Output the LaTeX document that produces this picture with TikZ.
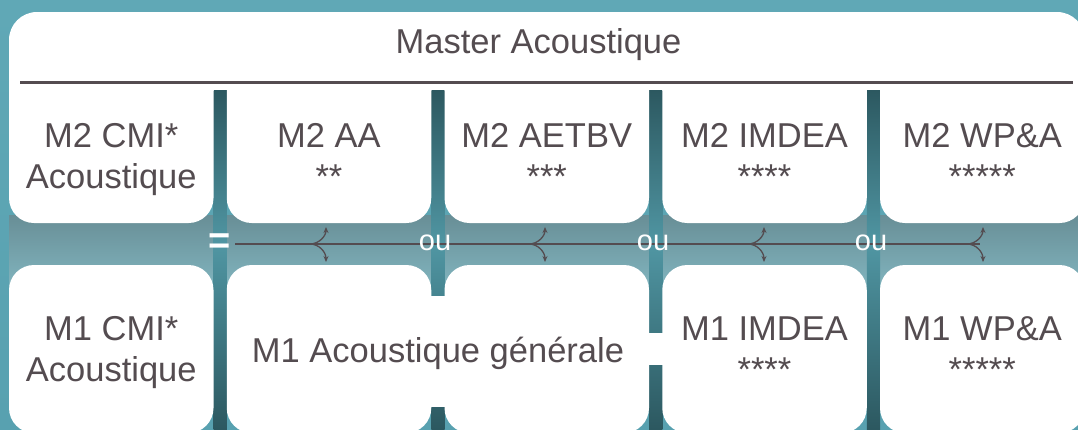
\documentclass[tikz,border=0pt]{standalone}
\usepackage{fontspec}
\setmainfont{Liberation Sans}
\usetikzlibrary{arrows.meta}
\definecolor{bgteal}{RGB}{88,161,176}
\definecolor{bgtop}{RGB}{96,168,182}
\definecolor{banddark}{RGB}{104,142,150}
\definecolor{bandlight}{RGB}{146,192,200}
\definecolor{bandlow}{RGB}{130,182,192}
\definecolor{bardark}{RGB}{44,88,96}
\definecolor{barlight}{RGB}{80,150,163}
\definecolor{ink}{RGB}{84,76,80}
% fixed line extents so every text block centres the same way
\newcommand\topstrut{\rule{0pt}{26pt}}
\newcommand\botstrut{\rule[-8pt]{0pt}{8pt}}

\begin{document}
\begin{tikzpicture}[x=1pt,y=-1pt,
  card/.style={fill=white, rounded corners=25pt},
  cardtext/.style={font=\fontsize{34.5}{41}\selectfont, text=ink, align=center, inner sep=0pt},
  joiner/.style={font=\fontsize{29}{30}\selectfont, text=white, inner sep=0pt},
  eqsign/.style={font=\fontsize{38}{40}\selectfont\bfseries, text=white, inner sep=0pt},
  link/.style={draw=ink, line width=2pt},
  branch/.style={draw=ink, line width=1.3pt, -{Stealth[length=6pt,width=5pt]}},
]
\useasboundingbox (0,0) rectangle (1078,429);
\clip (0,0) rectangle (1078,429);

% backdrop and the light band between the two rows
\shade[top color=bgtop, bottom color=bgteal] (0,0) rectangle (1078,429);
\shade[top color=banddark, middle color=bandlight, bottom color=bandlow] (9,215) rectangle (1078,290);

% banner
\fill[white, rounded corners=28pt] (9,12) rectangle (1085,150);

% dark separators between the columns
\foreach \a/\b in {213.5/226.75, 431.25/444.5, 649/662.25, 866.75/880} {
  \shade[top color=bardark, bottom color=barlight] (\a,90) rectangle (\b,244);
  \shade[top color=barlight, bottom color=bardark] (\a,244) rectangle (\b,429);
}

% cards of the two rows
\foreach \l in {9,226.75,444.5,662.25,880} {
  \fill[card] (\l,60) rectangle ++(204.5,163);
  \fill[card] (\l,265) rectangle ++(204.5,168);
}
% the merged M1 block
\fill[white] (431,296) rectangle (445,407);
\fill[white] (648,333) rectangle (663,365);

% rule under the title
\draw[ink, line width=3pt] (20,82) -- (1073,82);

% texts
\node[cardtext] (master) at (538.5,44) {\topstrut Master Acoustique\botstrut};

\node[cardtext] (m2cmi)   at (111.25,158.5) {\topstrut M2 CMI*\\Acoustique\botstrut};
\node[cardtext] (m2aa)    at (329,158.5)    {\topstrut M2 AA\\**\botstrut};
\node[cardtext] (m2aetbv) at (546.75,158.5) {\topstrut M2 AETBV\\***\botstrut};
\node[cardtext] (m2imdea) at (764.5,158.5)  {\topstrut M2 IMDEA\\****\botstrut};
\node[cardtext] (m2wpa)   at (982.25,158.5) {\topstrut M2 WP\&A\\*****\botstrut};

\node[cardtext] (m1cmi)   at (111.25,351.5) {\topstrut M1 CMI*\\Acoustique\botstrut};
\node[cardtext] (m1gen)   at (438,353)      {\topstrut M1 Acoustique générale\botstrut};
\node[cardtext] (m1imdea) at (764.5,351.5)  {\topstrut M1 IMDEA\\****\botstrut};
\node[cardtext] (m1wpa)   at (982.25,351.5) {\topstrut M1 WP\&A\\*****\botstrut};

% equivalence line with its forks
\node[eqsign] (eq) at (220,244) {=};
\coordinate (lineend) at (980,244);
\draw[link, shorten <=4pt] (eq.east) -- (lineend);
\foreach \x [count=\i] in {310,529,748,967} {
  \coordinate (fork\i) at (\x,244);
  \coordinate (up\i) at (\x+16,227);
  \coordinate (down\i) at (\x+16,262);
  \draw[branch] (fork\i) .. controls (\x+9,244) and (\x+16,236) .. (up\i);
  \draw[branch] (fork\i) .. controls (\x+9,244) and (\x+16,252) .. (down\i);
}
\node[joiner] (ou1) at (435,243) {ou};
\node[joiner] (ou2) at (653,243) {ou};
\node[joiner] (ou3) at (871,243) {ou};
\end{tikzpicture}
\end{document}
